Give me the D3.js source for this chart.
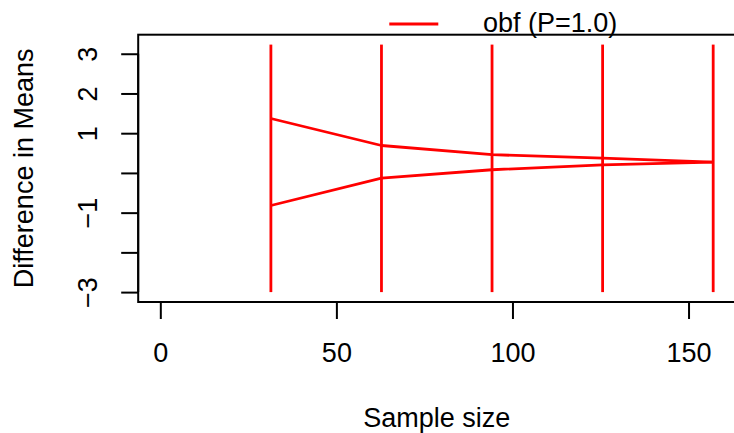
<!DOCTYPE html>
<html>
<head>
<meta charset="utf-8">
<script src="https://cdn.jsdelivr.net/npm/d3@7"></script>
<style>
  html, body { margin: 0; padding: 0; background: #fff; }
  svg { display: block; }
  text { font-family: "Liberation Sans", Arial, Helvetica, sans-serif; fill: #000; }
</style>
</head>
<body>
<svg id="chart" width="734" height="433"></svg>
<script>
// Analysis times (cumulative sample size) and boundaries on the mean-difference scale
const sampleSizes = [31.4, 62.8, 94.2, 125.6, 157.0];
const upperBound = [1.37, 0.69, 0.46, 0.37, 0.27];
const lowerBound = [-0.82, -0.13, 0.08, 0.20, 0.27];
// Each look is marked by a vertical segment spanning this range
const lookSpan = [-3.0, 3.23];

const xTicks = [0, 50, 100, 150];
const yTicks = [-3, -2, -1, 0, 1, 2, 3];
const yTickLabels = ["\u22123", "", "\u22121", "", "1", "2", "3"];

const legendLabel = "obf (P=1.0)";
const xTitle = "Sample size";
const yTitle = "Difference in Means";

const svg = d3.select("#chart");
const plot = { left: 138.2, right: 735.3, top: 34.7, bottom: 302 };
const red = "#ff0000";
const fontSize = 27;
const fontFamily = "Liberation Sans, Arial, sans-serif";

// base-graphics style 4% padding around the data range
function padded(lo, hi) {
  const d = (hi - lo) * 0.04;
  return [lo - d, hi + d];
}

const x = d3.scaleLinear()
  .domain(padded(0, d3.max(sampleSizes)))
  .range([plot.left, plot.right]);
const y = d3.scaleLinear()
  .domain(padded(lookSpan[0], lookSpan[1]))
  .range([plot.bottom, plot.top]);

// vertical segments at each look
svg.append("g").selectAll("line")
  .data(sampleSizes)
  .join("line")
  .attr("x1", d => x(d)).attr("x2", d => x(d))
  .attr("y1", y(lookSpan[0])).attr("y2", y(lookSpan[1]))
  .attr("stroke", red).attr("stroke-width", 2.8);

// upper and lower boundaries
const line = d3.line().x(d => x(d[0])).y(d => y(d[1]));
[upperBound, lowerBound].forEach(b => {
  svg.append("path")
    .datum(sampleSizes.map((n, i) => [n, b[i]]))
    .attr("d", line)
    .attr("fill", "none")
    .attr("stroke", red)
    .attr("stroke-width", 2.8)
    .attr("stroke-linejoin", "round");
});

// plot box
svg.append("rect")
  .attr("x", plot.left).attr("y", plot.top)
  .attr("width", plot.right - plot.left).attr("height", plot.bottom - plot.top)
  .attr("fill", "none").attr("stroke", "#000").attr("stroke-width", 2);

// x axis
const xAxis = svg.append("g")
  .attr("transform", `translate(0,${plot.bottom})`)
  .call(d3.axisBottom(x).tickValues(xTicks).tickSize(17).tickFormat(d3.format("d")));
xAxis.select(".domain")
  .attr("d", `M${x(xTicks[0])},0H${x(xTicks[xTicks.length - 1])}`)
  .attr("stroke-width", 2);
xAxis.selectAll(".tick line").attr("stroke-width", 2);
xAxis.selectAll(".tick text")
  .attr("font-size", fontSize)
  .attr("font-family", fontFamily)
  .attr("dy", 0).attr("y", 60);

// y axis with labels parallel to the axis
const yAxis = svg.append("g")
  .attr("transform", `translate(${plot.left},0)`)
  .call(d3.axisLeft(y).tickValues(yTicks).tickSize(17).tickFormat((d, i) => yTickLabels[i]));
yAxis.select(".domain")
  .attr("d", `M0,${y(yTicks[0])}V${y(yTicks[yTicks.length - 1])}`)
  .attr("stroke-width", 2);
yAxis.selectAll(".tick line").attr("stroke-width", 2);
yAxis.selectAll(".tick text")
  .attr("font-size", fontSize)
  .attr("font-family", fontFamily)
  .attr("x", null).attr("dy", null)
  .attr("text-anchor", "middle")
  .attr("transform", "translate(-41,0) rotate(-90)");

// axis titles
svg.append("text")
  .attr("x", (plot.left + plot.right) / 2)
  .attr("y", 426.5)
  .attr("text-anchor", "middle")
  .attr("font-size", fontSize)
  .text(xTitle);
svg.append("text")
  .attr("transform", `translate(33,${(plot.top + plot.bottom) / 2}) rotate(-90)`)
  .attr("text-anchor", "middle")
  .attr("font-size", fontSize)
  .text(yTitle);

// legend
const legend = svg.append("g");
legend.append("line")
  .attr("x1", 389.3).attr("x2", 438.3)
  .attr("y1", 24).attr("y2", 24)
  .attr("stroke", red).attr("stroke-width", 2.8);
legend.append("text")
  .attr("x", 483).attr("y", 32)
  .attr("font-size", fontSize)
  .text(legendLabel);
</script>
</body>
</html>
